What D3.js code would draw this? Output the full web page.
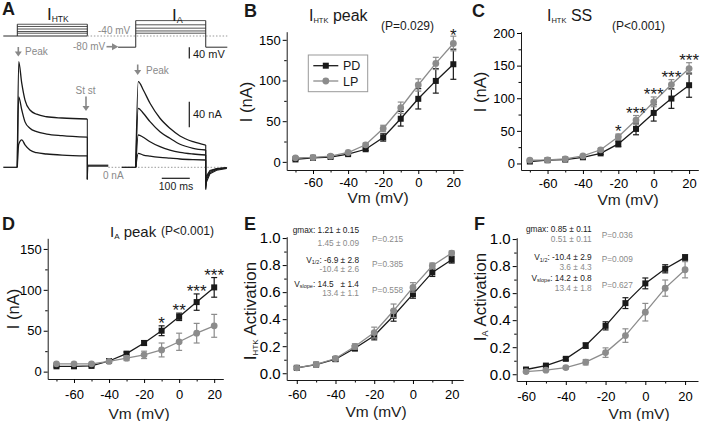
<!DOCTYPE html>
<html><head><meta charset="utf-8">
<script src="https://cdn.jsdelivr.net/npm/d3@7"></script>
<style>
html,body{margin:0;padding:0;background:#fff;}
svg{display:block;font-family:"Liberation Sans",Arial,Helvetica,sans-serif;}
</style></head><body>
<svg id="c" width="701" height="421"></svg>
<script>
// ---------------- DATA ----------------
const seriesNames = ["PD", "LP"];
const vmIV = [-70, -60, -50, -40, -30, -20, -10, 0, 10, 20];
const htkPD    = [3, 5, 6, 9.5, 15.5, 30, 53, 77.5, 99.5, 120];
const htkPDerr = [1, 1, 1, 1, 1.5, 4.5, 9, 12.5, 15, 18.5];
const htkLP    = [5, 5.5, 7, 11.5, 21, 41, 66.5, 94.5, 121, 145.5];
const htkLPerr = [1, 1, 1, 1, 2, 4, 7, 7.5, 7.5, 9];
const iaPD     = [6.5, 6.5, 7, 13, 22, 35, 50, 67, 85, 103];
const iaPDerr  = [1, 1, 1, 1.5, 2, 3, 6, 4.5, 10, 12];
const iaLP     = [9.5, 9.5, 9.5, 12.5, 16.5, 20.5, 26.5, 36.5, 47, 56];
const iaLPerr  = [1, 1, 1, 1.5, 3, 4.5, 8.5, 10.5, 12, 14];

const vmAct = [-60, -50, -40, -30, -20, -10, 0, 10, 20];
const actHtkPD    = [0.04, 0.064, 0.104, 0.185, 0.277, 0.425, 0.585, 0.746, 0.84];
const actHtkPDerr = [0.01, 0.01, 0.015, 0.02, 0.03, 0.04, 0.03, 0.03, 0.025];
const actHtkLP    = [0.04, 0.065, 0.109, 0.198, 0.301, 0.462, 0.635, 0.795, 0.889];
const actHtkLPerr = [0.01, 0.01, 0.015, 0.02, 0.04, 0.05, 0.035, 0.02, 0.015];
const actIaPD     = [0.035, 0.064, 0.114, 0.212, 0.358, 0.526, 0.672, 0.78, 0.864];
const actIaPDerr  = [0.01, 0.01, 0.01, 0.02, 0.03, 0.04, 0.04, 0.03, 0.02];
const actIaLP     = [0.02, 0.03, 0.049, 0.089, 0.16, 0.286, 0.459, 0.637, 0.773];
const actIaLPerr  = [0.01, 0.01, 0.01, 0.02, 0.035, 0.05, 0.065, 0.06, 0.06];

const ivXTicks = [-60, -40, -20, 0, 20];
const ivXMinor = [-70, -50, -30, -10, 10];
const actXTicks = [-60, -40, -20, 0, 20];
const actXMinor = [-50, -30, -10, 10];
const peakYTicks = [0, 50, 100, 150];
const peakYMinor = [25, 75, 125];
const ssYTicks = [0, 50, 100, 150, 200];
const ssYMinor = [25, 75, 125, 175];
const actYTicks = [0, 0.2, 0.4, 0.6, 0.8, 1.0];
const actYMinor = [0.1, 0.3, 0.5, 0.7, 0.9];

const starsB = [{v: 20, s: "*"}];
const starsC = [{v: -20, s: "*"}, {v: -10, s: "***"}, {v: 0, s: "***"}, {v: 10, s: "***"}, {v: 20, s: "***"}];
const starsD = [{v: -10, s: "*"}, {v: 0, s: "**"}, {v: 10, s: "***"}, {v: 20, s: "***"}];

const statNames = [["gmax", ""], ["V", "1/2"], ["V", "slope"]];
const statsE_PD = ["1.21 \u00b1 0.15", "-6.9 \u00b1 2.8", "14.5   \u00b1 1.4"];
const statsE_LP = ["1.45 \u00b1 0.09", "-10.4 \u00b1 2.6", "13.4 \u00b1 1.1"];
const statsE_P  = ["P=0.215", "P=0.385", "P=0.558"];
const statsF_PD = ["0.85 \u00b1 0.11", "-10.4 \u00b1 2.9", "14.2 \u00b1 0.8"];
const statsF_LP = ["0.51 \u00b1 0.11", "3.6 \u00b1 4.3", "13.4 \u00b1 1.8"];
const statsF_P  = ["P=0.036", "P=0.009", "P=0.627"];

// Panel A (example traces) — time in ms, current in nA, voltage in mV
const stepsHTK = [2, -6, -15, -24, -30];
const stepsIA = [15, 0, -12, -22, -30];
const htkT  = [0, 5, 16, 27.5, 45, 69, 105, 160, 250];
const htkTr1 = [0, 165, 131, 105, 89.5, 83, 79, 77, 75.5];
const htkTr2 = [0, 110, 89.5, 71, 61, 55.6, 52, 49.5, 47];
const htkTr3 = [0, 36, 43, 35, 27, 22.8, 20.8, 19, 17.7];
const iaT   = [0, 9, 27, 51, 86.6, 122, 158, 205, 250];
const iaTr1 = [0, 133.8, 120.8, 100, 76.6, 61, 49, 40, 34.8];
const iaTr2 = [0, 92.2, 84.4, 71.3, 55.6, 45.3, 36, 29.7, 27];
const iaTr3 = [0, 50.5, 46.9, 40, 32.2, 27, 23.4, 20.8, 19.2];
const iaTr4 = [0, 21.9, 19.2, 17.5, 15.6, 14.3, 13, 12, 11.4];
const tailT = [250, 252, 265, 289, 325];
const iaTails = [[-35, -24, -10, -4.5, -1.8], [-33, -20, -8, -3.5, -1.2], [-30, -17, -6, -2.5, -0.8], [-28, -14, -5, -2, -0.5]];
const htkOffT = [250, 252, 325];
const htkOff = [-18.8, 2.5, 2.5];

// ---------------- DRAW ----------------
const BLACK = "#1a1a1a", GRAY = "#8c8c8c", TGRAY = "#8a8a8a";
const svg = d3.select("#c");

function txt(x, y, str, opt = {}) {
  return svg.append("text").attr("x", x).attr("y", y)
    .attr("font-size", opt.size || 12).attr("fill", opt.fill || BLACK)
    .attr("font-weight", opt.weight || null)
    .attr("text-anchor", opt.anchor || "start").text(str);
}
function subText(x, y, parts, opt = {}) {
  const t = svg.append("text").attr("x", x).attr("y", y)
    .attr("font-size", opt.size || 12).attr("fill", opt.fill || BLACK)
    .attr("text-anchor", opt.anchor || "start").style("white-space", "pre");
  if (opt.rotate) t.attr("transform", `rotate(-90,${x},${y})`);
  let prevSub = false;
  parts.forEach(([s, sub]) => {
    if (s === "") return;
    const ts = t.append("tspan").text(s);
    const dsub = opt.subDy || 3;
    if (sub) { ts.attr("font-size", opt.subSize || (opt.size || 12) * 0.55).attr("dy", dsub); }
    else if (prevSub) { ts.attr("dy", -dsub); }
    prevSub = sub;
  });
  return t;
}

function drawPanel(p) {
  const x = d3.scaleLinear().domain(p.xd).range(p.xr);
  const y = d3.scaleLinear().domain(p.yd).range(p.yr);
  const g = svg.append("g");
  const y0 = p.yr[0], x0 = p.xr[0];
  const xm = g.append("g").attr("transform", `translate(0,${y0})`)
    .call(d3.axisBottom(x).tickValues(p.xMinor).tickSize(2.5).tickFormat(""));
  xm.select(".domain").remove();
  const ym = g.append("g").attr("transform", `translate(${x0},0)`)
    .call(d3.axisLeft(y).tickValues(p.yMinor).tickSize(2.5).tickFormat(""));
  ym.select(".domain").remove();
  const xa = g.append("g").attr("transform", `translate(0,${y0})`)
    .call(d3.axisBottom(x).tickValues(p.xTicks).tickSize(4).tickSizeOuter(0).tickPadding(p.xPad).tickFormat(d => String(d)));
  xa.attr("font-size", 13).attr("font-family", null);
  const ya = g.append("g").attr("transform", `translate(${x0},0)`)
    .call(d3.axisLeft(y).tickValues(p.yTicks).tickSize(4).tickSizeOuter(0).tickPadding(2).tickFormat(p.yFmt));
  ya.attr("font-size", p.yFont).attr("font-family", null);
  g.selectAll(".domain").attr("stroke", BLACK);

  const series = [
    {v: p.pd, e: p.pdErr, c: BLACK, shape: "sq"},
    {v: p.lp, e: p.lpErr, c: GRAY, shape: "ci"}
  ];
  series.forEach(s => {
    const pts = p.vm.map((vm, i) => ({vm, v: s.v[i], e: s.e[i]}));
    g.append("path").datum(pts).attr("fill", "none").attr("stroke", s.c).attr("stroke-width", 1.3)
      .attr("d", d3.line().x(d => x(d.vm)).y(d => y(d.v)));
    const eb = g.append("g").attr("stroke", s.c).attr("stroke-width", 1.2);
    pts.forEach(d => {
      eb.append("line").attr("x1", x(d.vm)).attr("x2", x(d.vm)).attr("y1", y(d.v - d.e)).attr("y2", y(d.v + d.e));
      [d.v - d.e, d.v + d.e].forEach(yy => eb.append("line").attr("x1", x(d.vm) - 3).attr("x2", x(d.vm) + 3).attr("y1", y(yy)).attr("y2", y(yy)));
    });
    if (s.shape === "sq") {
      g.selectAll(null).data(pts).join("rect").attr("x", d => x(d.vm) - 3).attr("y", d => y(d.v) - 3)
        .attr("width", 6).attr("height", 6).attr("fill", s.c);
    } else {
      g.selectAll(null).data(pts).join("circle").attr("cx", d => x(d.vm)).attr("cy", d => y(d.v))
        .attr("r", 3.4).attr("fill", s.c);
    }
  });
  if (p.stars) {
    p.stars.forEach(st => {
      const i = p.vm.indexOf(st.v);
      const top = Math.max(p.pd[i] + p.pdErr[i], p.lp[i] + p.lpErr[i]);
      g.append("text").attr("x", x(st.v)).attr("y", y(top) + 4 - (p.starGap || 0)).attr("text-anchor", "middle")
        .attr("font-size", 17).attr("fill", BLACK).text(st.s);
    });
  }
  return {x, y};
}

// ---------- Panel B ----------
drawPanel({xd: [-75, 25.5], xr: [286.7, 463], yd: [-10, 160], yr: [170, 31.7], xPad: 3.5,
  xTicks: ivXTicks, xMinor: ivXMinor, yTicks: peakYTicks, yMinor: peakYMinor, yFmt: d => String(d), yFont: 13,
  vm: vmIV, pd: htkPD, pdErr: htkPDerr, lp: htkLP, lpErr: htkLPerr, stars: starsB, starGap: -1});
txt(244, 17, "B", {size: 18, weight: "bold"});
subText(309, 20.5, [["I", false], ["HTK", true], [" peak", false]], {size: 16, subSize: 7.5, subDy: 2});
txt(381, 30, "(P=0.029)", {size: 12});
subText(252, 102, [["I (nA)", false]], {size: 16.5, anchor: "middle", rotate: true});
txt(378, 202.5, "Vm (mV)", {size: 15.5, anchor: "middle"});
// legend
svg.append("rect").attr("x", 308.3).attr("y", 55).attr("width", 59.4).attr("height", 36.7)
  .attr("fill", "#fff").attr("stroke", "#999").attr("stroke-width", 1);
seriesNames.forEach((nm, i) => {
  const ly = 65.7 + i * 15.3, c = i === 0 ? BLACK : GRAY;
  svg.append("line").attr("x1", 313.3).attr("x2", 338.3).attr("y1", ly).attr("y2", ly).attr("stroke", c).attr("stroke-width", 1.3);
  if (i === 0) svg.append("rect").attr("x", 322.8).attr("y", ly - 3).attr("width", 6).attr("height", 6).attr("fill", c);
  else svg.append("circle").attr("cx", 325.8).attr("cy", ly).attr("r", 3.4).attr("fill", c);
  txt(343, ly + 4.5, nm, {size: 12.5});
});

// ---------- Panel C ----------
drawPanel({xd: [-75, 25.2], xr: [521, 698.3], yd: [-10, 202], yr: [170, 31.7], xPad: 5,
  xTicks: ivXTicks, xMinor: ivXMinor, yTicks: ssYTicks, yMinor: ssYMinor, yFmt: d => String(d), yFont: 13,
  vm: vmIV, pd: htkPD, pdErr: htkPDerr, lp: htkLP, lpErr: htkLPerr, stars: starsC, starGap: 1});
txt(472, 17, "C", {size: 18, weight: "bold"});
subText(547, 20.5, [["I", false], ["HTK", true], [" SS", false]], {size: 16, subSize: 7.5, subDy: 2});
txt(612, 30, "(P<0.001)", {size: 12});
subText(486, 92, [["I (nA)", false]], {size: 16.5, anchor: "middle", rotate: true});
txt(628, 204.5, "Vm (mV)", {size: 15.5, anchor: "middle"});

// ---------- Panel D ----------
drawPanel({xd: [-75, 25.2], xr: [47.7, 223.3], yd: [-9, 163], yr: [379, 238.3], xPad: 7,
  xTicks: ivXTicks, xMinor: ivXMinor, yTicks: peakYTicks, yMinor: peakYMinor, yFmt: d => String(d), yFont: 13,
  vm: vmIV, pd: iaPD, pdErr: iaPDerr, lp: iaLP, lpErr: iaLPerr, stars: starsD, starGap: 1});
txt(2, 230, "D", {size: 18, weight: "bold"});
subText(110, 237, [["I", false], ["A", true], [" peak", false]], {size: 15, subSize: 8, subDy: 2});
txt(161, 235, "(P<0.001)", {size: 12});
subText(19, 309, [["I (nA)", false]], {size: 16.5, anchor: "middle", rotate: true});
txt(139, 419, "Vm (mV)", {size: 15.5, anchor: "middle"});

// ---------- Panel E ----------
drawPanel({xd: [-65.2, 26], xr: [286.7, 463.3], yd: [-0.05, 1.01], yr: [380, 236.7], xPad: 5.5,
  xTicks: actXTicks, xMinor: actXMinor, yTicks: actYTicks, yMinor: actYMinor, yFmt: d3.format(".1f"), yFont: 15,
  vm: vmAct, pd: actHtkPD, pdErr: actHtkPDerr, lp: actHtkLP, lpErr: actHtkLPerr});
txt(244, 230, "E", {size: 18, weight: "bold"});
subText(256, 311, [["I", false], ["HTK", true], [" Activation", false]], {size: 17, subSize: 8, subDy: 2, anchor: "middle", rotate: true});
txt(376, 416.5, "Vm (mV)", {size: 15.5, anchor: "middle"});

// ---------- Panel F ----------
drawPanel({xd: [-64.7, 26.5], xr: [516.7, 698], yd: [-0.05, 1.01], yr: [381, 237.7], xPad: 6.5,
  xTicks: actXTicks, xMinor: actXMinor, yTicks: actYTicks, yMinor: actYMinor, yFmt: d3.format(".1f"), yFont: 15,
  vm: vmAct, pd: actIaPD, pdErr: actIaPDerr, lp: actIaLP, lpErr: actIaLPerr});
txt(474, 230, "F", {size: 18, weight: "bold"});
subText(486, 297, [["I", false], ["A", true], [" Activation", false]], {size: 17, subSize: 9, subDy: 2, anchor: "middle", rotate: true});
txt(639, 418.5, "Vm (mV)", {size: 15.5, anchor: "middle"});

// stats annotations
function drawStats(xEnd, xP, pdY, lpY, pY, pd, lp, pv) {
  statNames.forEach((nm, i) => {
    subText(xEnd, pdY[i], [[nm[0], false], [nm[1], true], [": " + pd[i], false]], {size: 8.3, subSize: 5.5, subDy: 1.5, anchor: "end"});
    txt(xEnd, lpY[i], lp[i], {size: 8.3, anchor: "end", fill: TGRAY});
    txt(xP, pY[i], pv[i], {size: 8.3, fill: TGRAY});
  });
}
drawStats(359, 372, [233, 262.5, 286.5], [245.5, 272, 295.5], [241.5, 266.5, 293], statsE_PD, statsE_LP, statsE_P);
drawStats(591.7, 601.7, [231.5, 260, 280.5], [241.5, 270, 291], [238, 261.5, 288], statsF_PD, statsF_LP, statsF_P);

// ---------- Panel A ----------
const tA = d3.scaleLinear().domain([0, 250]).range([17.3, 87.3]);
const iA = d3.scaleLinear().domain([0, 40]).range([167.3, 141.7]);
const vA = d3.scaleLinear().domain([-40, 0]).range([36, 24.8]);
const gA = svg.append("g").attr("fill", "none");
const PROT = "#2a2a2a";
const hl = (t1, t2, v, col, w, dash) => gA.append("line").attr("x1", tA(t1)).attr("x2", tA(t2)).attr("y1", vA(v)).attr("y2", vA(v))
  .attr("stroke", col).attr("stroke-width", w).attr("stroke-dasharray", dash || null);
hl(-50, 250, -40, PROT, 1);
stepsHTK.forEach(v => hl(0, 250, v, PROT, 0.8));
[0, 250].forEach(t => gA.append("line").attr("x1", tA(t)).attr("x2", tA(t)).attr("y1", vA(-40)).attr("y2", vA(d3.max(stepsHTK))).attr("stroke", PROT).attr("stroke-width", 1));
hl(250, 750, -40, "#999", 1, "1.5,1.8");
hl(360, 423, -80, PROT, 1);
hl(673, 750, -80, PROT, 1);
stepsIA.forEach(v => hl(423, 673, v, PROT, 0.8));
[423, 673].forEach(t => gA.append("line").attr("x1", tA(t)).attr("x2", tA(t)).attr("y1", vA(-80)).attr("y2", vA(d3.max(stepsIA))).attr("stroke", PROT).attr("stroke-width", 1));
gA.append("line").attr("x1", 189.3).attr("x2", 189.3).attr("y1", vA(-80)).attr("y2", vA(-120)).attr("stroke", BLACK).attr("stroke-width", 1.2);

const lineA = d3.line().x(d => tA(d[0])).y(d => iA(d[1])).curve(d3.curveMonotoneX);
const lineLin = d3.line().x(d => tA(d[0])).y(d => iA(d[1]));
gA.append("line").attr("x1", tA(325)).attr("x2", tA(750)).attr("y1", iA(0)).attr("y2", iA(0)).attr("stroke", "#999").attr("stroke-dasharray", "1.5,1.8");
gA.append("path").attr("d", lineLin([[-50, 0], [0, 0]])).attr("stroke", BLACK).attr("stroke-width", 1.3);
gA.append("path").attr("d", lineLin([[373, 0], [423, 0]])).attr("stroke", BLACK).attr("stroke-width", 1.3);
[htkTr1, htkTr2, htkTr3].forEach(tr => {
  gA.append("path").attr("d", lineA(htkT.map((t, i) => [t, tr[i]]))).attr("stroke", BLACK).attr("stroke-width", 1.3);
  gA.append("path").attr("d", lineLin([[250, tr[tr.length - 1]], [htkOffT[0], htkOff[0]]])).attr("stroke", BLACK).attr("stroke-width", 1);
});
gA.append("path").attr("d", lineLin(htkOffT.slice(1).map((t, i) => [t, htkOff[i + 1]]))).attr("stroke", "#333").attr("stroke-width", 2.2);
gA.append("path").attr("d", lineLin([[250, htkOff[0]], [252, htkOff[1]]])).attr("stroke", BLACK).attr("stroke-width", 1);
[iaTr1, iaTr2, iaTr3, iaTr4].forEach((tr, k) => {
  gA.append("path").attr("d", lineA(iaT.map((t, i) => [t + 423, tr[i]]))).attr("stroke", BLACK).attr("stroke-width", 1.3);
  const tail = [[673, tr[tr.length - 1]]].concat(tailT.map((t, i) => [t + 423, iaTails[k][i]]));
  gA.append("path").attr("d", lineLin(tail)).attr("stroke", BLACK).attr("stroke-width", 1.1);
});
gA.append("line").attr("x1", 189.3).attr("x2", 189.3).attr("y1", iA(62.5)).attr("y2", iA(102.5)).attr("stroke", BLACK).attr("stroke-width", 1.2);
gA.append("line").attr("x1", tA(516)).attr("x2", tA(616)).attr("y1", 178.3).attr("y2", 178.3).attr("stroke", BLACK).attr("stroke-width", 1.2);

function downArrow(x, y1, y2) {
  svg.append("line").attr("x1", x).attr("x2", x).attr("y1", y1).attr("y2", y2 - 4).attr("stroke", "#888").attr("stroke-width", 1.6);
  svg.append("path").attr("d", `M${x - 3.5},${y2 - 5}L${x + 3.5},${y2 - 5}L${x},${y2}Z`).attr("fill", "#888");
}
downArrow(18.3, 47, 56.5);
downArrow(137.7, 64.5, 75);
downArrow(86, 96.5, 111);
svg.append("line").attr("x1", 106.5).attr("x2", 113).attr("y1", 46.7).attr("y2", 46.7).attr("stroke", "#888").attr("stroke-width", 1.6);
svg.append("path").attr("d", "M112,43.2L118.3,46.7L112,50.2Z").attr("fill", "#888");

txt(2, 15, "A", {size: 18, weight: "bold"});
subText(47, 20, [["I", false], ["HTK", true]], {size: 17, subSize: 8.5, subDy: 2});
subText(172, 21, [["I", false], ["A", true]], {size: 17, subSize: 9, subDy: 2});
txt(98, 34, "-40 mV", {size: 10, fill: TGRAY});
txt(73, 50, "-80 mV", {size: 10, fill: TGRAY});
txt(193, 57.5, "40 mV", {size: 11});
txt(25, 55, "Peak", {size: 10, fill: TGRAY});
txt(146, 73.5, "Peak", {size: 10, fill: TGRAY});
txt(85.5, 94, "St st", {size: 10, fill: TGRAY, anchor: "middle"});
txt(193, 118, "40 nA", {size: 11});
txt(103, 178.5, "0 nA", {size: 10, fill: TGRAY});
txt(176, 190, "100 ms", {size: 10.5, anchor: "middle"});
</script>
</body></html>
